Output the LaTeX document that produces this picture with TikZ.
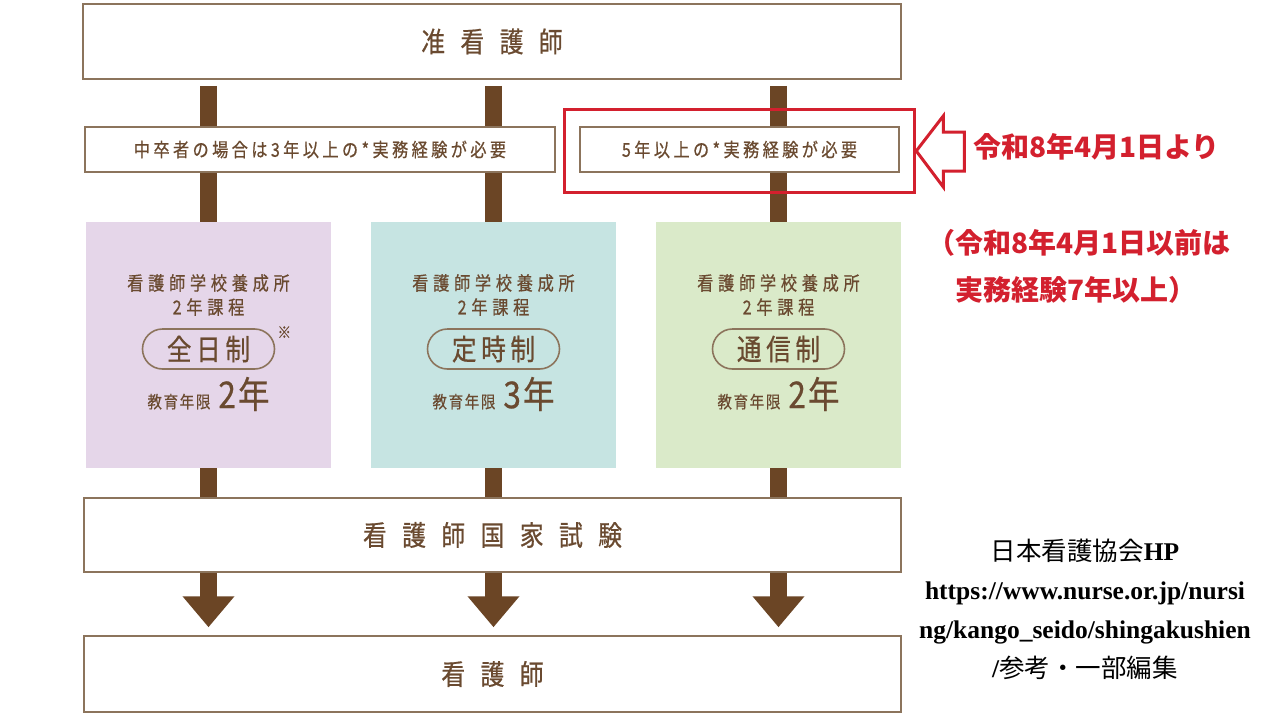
\documentclass[tikz,border=0pt]{standalone}
\usepackage{fontspec}
\setmainfont{Liberation Serif}
\newfontfamily\jp{Noto Sans CJK JP}
\newfontfamily\gothic[FakeStretch=0.85, FakeBold=0.6]{Noto Sans CJK JP}
\newcommand{\jtext}[3]{{\fontsize{#1}{#1}\gothic\addfontfeatures{LetterSpace=#2}#3}}
\usepackage{tikz}
\usetikzlibrary{arrows.meta, positioning, fit}

\definecolor{bark}{HTML}{6B4525}
\definecolor{ink}{HTML}{6A4A30}
\definecolor{rim}{HTML}{8C745C}
\definecolor{lilac}{HTML}{E5D6E9}
\definecolor{mint}{HTML}{C6E4E2}
\definecolor{sage}{HTML}{DAEAC9}
\definecolor{alert}{HTML}{D3202E}

\begin{document}
\begin{tikzpicture}[x=1pt, y=-1pt,
    panel/.style={draw=rim, line width=1.5pt, fill=white, inner sep=0pt, text=ink},
    course/.style={inner sep=0pt, minimum width=245pt, minimum height=246pt},
    coursetext/.style={inner sep=0pt, text=ink},
    pillbox/.style={draw=rim, line width=1.6pt, rounded corners=20pt, minimum width=132pt, minimum height=40pt, inner sep=0pt, text=ink},
    track/.style={draw=bark, line width=17pt},
    flow/.style={draw=bark, line width=17pt, -{Triangle[width=50pt, length=31pt]}, shorten >=8pt},
    redtext/.style={inner sep=0pt, text=alert, font=\jp\bfseries\fontsize{28}{47}\selectfont},
    source/.style={inner sep=0pt, align=center, font=\bfseries\fontsize{25.5}{39}\selectfont}]
  \useasboundingbox (0,0) rectangle (1280,720);
  \fill[white] (0,0) rectangle (1280,720);
  %
  \node[panel, minimum width=818pt, minimum height=75pt] (assoc) at (492,41.5) {\jtext{28}{55}{准看護師}};
  \node[course, fill=lilac] (full) at (208.5,345) {};
  \node[course, fill=mint] (part) at (493.5,345) {};
  \node[course, fill=sage] (corr) at (778.5,345) {};
  \node[panel, minimum width=817pt, minimum height=74pt] (exam) at (492.5,535) {\jtext{28}{55}{看護師国家試験}};
  \node[panel, minimum width=817pt, minimum height=76pt] (rn) at (492.5,674) {\jtext{28}{55}{看護師}};
  %
  \draw[track] ([yshift=-6pt]assoc.south -| full.north) -- (full.north);
  \draw[track] ([yshift=-6pt]assoc.south -| part.north) -- (part.north);
  \draw[track] ([yshift=-6pt]assoc.south -| corr.north) -- (corr.north);
  \draw[track] (full.south) -- (full.south |- exam.north);
  \draw[track] (part.south) -- (part.south |- exam.north);
  \draw[track] (corr.south) -- (corr.south |- exam.north);
  \draw[flow] (full.south |- exam.south) -- (full.south |- rn.north);
  \draw[flow] (part.south |- exam.south) -- (part.south |- rn.north);
  \draw[flow] (corr.south |- exam.south) -- (corr.south |- rn.north);
  %
  \node[panel, minimum width=470pt, minimum height=45pt] (jhs) at (320,149.5) {\jtext{19}{18}{中卒者の場合は3年以上の*実務経験が必要}};
  \node[panel, minimum width=319pt, minimum height=45pt] (five) at (739.5,149.5) {\jtext{19}{18}{5年以上の*実務経験が必要}};
  %
  \node[coursetext] at ([yshift=62pt]full.center) {\jtext{19}{25}{看護師学校養成所}};
  \node[coursetext] at ([yshift=38pt]full.center) {\jtext{19}{25}{2年課程}};
  \node[pillbox] (fullmode) at ([yshift=-4pt]full.center) {\jtext{29}{16}{全日制}};
  \node[coursetext] at ([yshift=-49pt]full.center) {\jtext{17}{10}{教育年限}\hspace{8pt}\jtext{37}{6}{2年}};
  \node[coursetext, right=2pt of fullmode.north east, yshift=-4pt] {\jtext{16}{0}{※}};
  %
  \node[coursetext] at ([yshift=62pt]part.center) {\jtext{19}{25}{看護師学校養成所}};
  \node[coursetext] at ([yshift=38pt]part.center) {\jtext{19}{25}{2年課程}};
  \node[pillbox] (partmode) at ([yshift=-4pt]part.center) {\jtext{29}{16}{定時制}};
  \node[coursetext] at ([yshift=-49pt]part.center) {\jtext{17}{10}{教育年限}\hspace{8pt}\jtext{37}{6}{3年}};
  %
  \node[coursetext] at ([yshift=62pt]corr.center) {\jtext{19}{25}{看護師学校養成所}};
  \node[coursetext] at ([yshift=38pt]corr.center) {\jtext{19}{25}{2年課程}};
  \node[pillbox] (corrmode) at ([yshift=-4pt]corr.center) {\jtext{29}{16}{通信制}};
  \node[coursetext] at ([yshift=-49pt]corr.center) {\jtext{17}{10}{教育年限}\hspace{8pt}\jtext{37}{6}{2年}};
  %
  \node[draw=alert, line width=3pt, fit=(five), inner xsep=15pt, inner ysep=18pt, yshift=-1.5pt] (focus) {};
  \draw[alert, line width=3pt, fill=white, line join=miter] (focus.east) -- ++(27,-35) -- ++(0,16) -- ++(21,0) -- ++(0,39) -- ++(-21,0) -- ++(0,16) -- cycle;
  \node[redtext, anchor=west] (since) at (973,147) {令和8年4月1日より};
  \node[redtext, align=left, anchor=west] (before) at (927,266.5) {（令和8年4月1日以前は\\\hspace*{1em}実務経験7年以上）};
  %
  \node[source] (cite) at (1085,609) {{\jp\mdseries 日本看護協会}HP\\https://www.nurse.or.jp/nursi\\ng/kango\_seido/shingakushien\\/{\jp\mdseries 参考・一部編集}};
\end{tikzpicture}
\end{document}
